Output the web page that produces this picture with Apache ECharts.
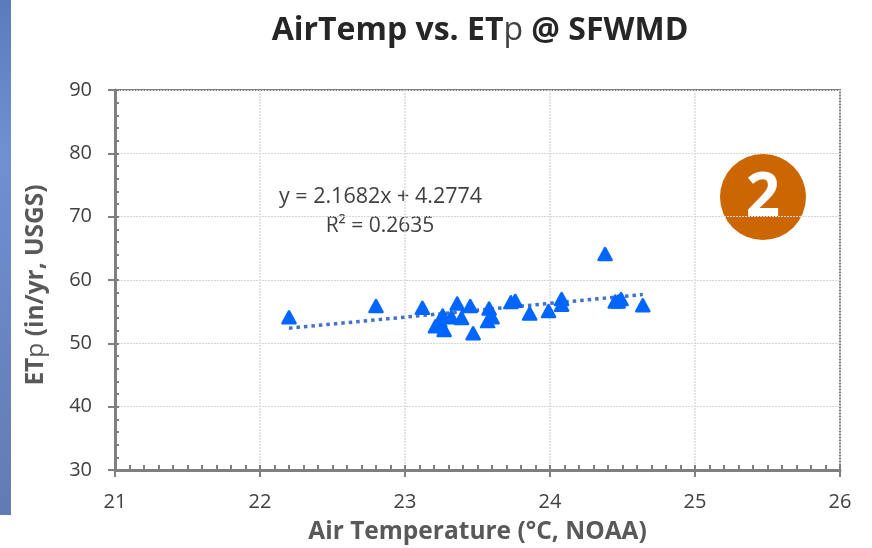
<!DOCTYPE html>
<html><head><meta charset="utf-8">
<style>html,body{margin:0;padding:0;background:#fff}#c{width:872px;height:548px}</style>
<script src="https://cdn.jsdelivr.net/npm/echarts@6/dist/echarts.min.js"></script>
</head><body><div id="c"></div>
<script>
const airTemp = [22.20,22.80,23.12,23.36,23.45,23.58,23.26,23.32,23.39,23.60,23.57,23.21,23.24,23.27,23.47,23.73,23.76,23.86,23.99,24.08,24.08,24.38,24.45,24.47,24.49,24.64];
const etp     = [54.1,55.9,55.6,56.3,55.9,55.5,54.4,54.1,54.0,54.1,53.5,52.7,53.6,52.1,51.6,56.5,56.7,54.7,55.1,57.0,56.1,64.1,56.6,56.6,57.0,56.0];
const trendX = [22.20,24.64];
const trendY = [52.4,57.7];
const xRange = [21,26];
const yRange = [30,90];
const FONT = '"Open Sans", sans-serif';
const grey = '#7f7f7f';
const points = airTemp.map((x,i)=>[x,etp[i]]);
const trend = trendX.map((x,i)=>[x,trendY[i]]);
const chart = echarts.init(document.getElementById('c'),null,{renderer:'canvas'});
function baseX(extra){return Object.assign({type:'value',min:xRange[0],max:xRange[1],interval:1,position:'bottom'},extra);}
function baseY(extra){return Object.assign({type:'value',min:yRange[0],max:yRange[1],interval:10,position:'left'},extra);}
chart.setOption({
  animation:false,
  backgroundColor:'#fff',
  title:{
    text:'{b|AirTemp vs. ET}{n|p}{b| @ SFWMD}',left:475,top:10,textAlign:'center',
    textStyle:{rich:{
      b:{fontFamily:FONT,fontSize:32,fontWeight:'bold',color:'#262626'},
      n:{fontFamily:FONT,fontSize:32,fontWeight:'normal',color:'#404040'}
    }}
  },
  grid:{left:115,right:32,top:90,bottom:78,outerBoundsMode:'none',show:true,borderColor:grey,borderWidth:2,backgroundColor:'transparent'},
  xAxis:[
    baseX({
      name:'Air Temperature (°C, NOAA)',nameLocation:'middle',nameGap:50,
      nameTextStyle:{fontFamily:FONT,fontSize:24.5,fontWeight:'bold',color:'#595959'},
      axisLine:{lineStyle:{color:grey,width:3}},
      axisTick:{show:true,length:7,lineStyle:{color:grey,width:2}},
      axisLabel:{fontFamily:FONT,fontSize:20,color:'#404040',margin:22},
      splitLine:{show:true,lineStyle:{color:'#dcdcdc',width:1.5,type:[2,1]}}
    }),
    baseX({
      axisLine:{show:false},axisLabel:{show:false},splitLine:{show:false},
      axisTick:{show:true,inside:true,length:5,lineStyle:{color:grey,width:2}},
      minorTick:{show:true,splitNumber:10,length:5,lineStyle:{color:grey,width:2}}
    })
  ],
  yAxis:[
    baseY({
      name:'ET{n|p} (in/yr, USGS)',nameLocation:'middle',nameGap:66,nameRotate:90,
      nameTextStyle:{fontFamily:FONT,fontSize:24.5,fontWeight:'bold',color:'#595959',padding:[0,10,0,0],
        rich:{n:{fontFamily:FONT,fontSize:24.5,fontWeight:'normal',color:'#595959'}}},
      axisLine:{lineStyle:{color:grey,width:3}},
      axisTick:{show:true,length:7,lineStyle:{color:grey,width:2}},
      axisLabel:{fontFamily:FONT,fontSize:20,color:'#404040',margin:23},
      splitLine:{show:true,lineStyle:{color:'#d6d6d6',width:1,type:[2,1]}}
    }),
    baseY({
      axisLine:{show:false},axisLabel:{show:false},splitLine:{show:false},
      axisTick:{show:true,inside:true,length:4,lineStyle:{color:grey,width:2}},
      minorTick:{show:true,splitNumber:5,length:4,lineStyle:{color:grey,width:2}}
    })
  ],
  series:[
    {type:'line',data:trend,showSymbol:false,symbol:'none',z:2,
     lineStyle:{color:'#4472c4',width:3.5,type:[3.5,4]}},
    {type:'scatter',data:points,symbol:'triangle',symbolSize:[13,12],z:3,
     itemStyle:{color:'#0066ff',opacity:1,borderColor:'#0066ff',borderWidth:2.5,borderJoin:'round'}}
  ],
  graphic:[
    {type:'rect',silent:true,shape:{x:0,y:0,width:11,height:515},
     style:{fill:new echarts.graphic.LinearGradient(0,0,0,1,[
       {offset:0,color:'#5a7cbc'},{offset:0.3,color:'#6f90d2'},{offset:1,color:'#627bb3'}])}},
    {type:'text',silent:true,x:380.5,y:197,style:{text:'y = 2.1682x + 4.2774',fontFamily:FONT,fontSize:21.5,fill:'#404040',textAlign:'center',textVerticalAlign:'middle'}},
    {type:'text',silent:true,x:380,y:226,style:{text:'R² = 0.2635',fontFamily:FONT,fontSize:21,fill:'#404040',textAlign:'center',textVerticalAlign:'middle'}},
    {type:'circle',silent:true,shape:{cx:763,cy:197,r:43},style:{fill:'#cc6600'}},
    {type:'text',silent:true,x:763,y:199,style:{text:'2',fontFamily:FONT,fontSize:60,fontWeight:'bold',fill:'#fff',textAlign:'center',textVerticalAlign:'middle'}}
  ]
});
</script></body></html>
